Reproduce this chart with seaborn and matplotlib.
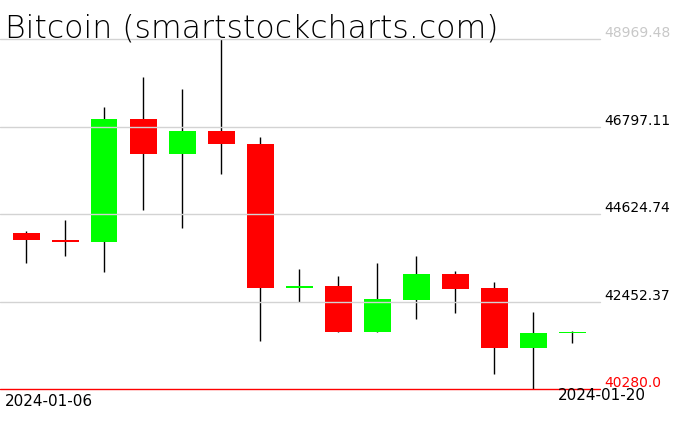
import matplotlib
matplotlib.use("Agg")
import matplotlib.pyplot as plt
import pandas as pd
import seaborn as sns

dates = pd.date_range("2024-01-06", "2024-01-20", freq="D")
opens = [44168, 43994, 43927, 46979, 46108, 46680, 46357, 42782, 42850, 41713, 42501, 43148, 42800, 41315, 41670]
highs = [44210, 44491, 47277, 48024, 47725, 48969.48, 46531, 43272, 43098, 43422, 43596, 43223, 42949, 42203, 41730]
lows = [43404, 43578, 43180, 44740, 44292, 45611, 41489, 42434, 41713, 41713, 42036, 42185, 40668, 40280.0, 41440]
closes = [43976, 43927, 46979, 46108, 46680, 46357, 42782, 42850, 41713, 42526, 43148, 42775, 41315, 41680, 41700]
tick_values = [48969.48, 46797.11, 44624.74, 42452.37, 40280.0]

df = pd.DataFrame({"date": dates, "open": opens, "high": highs, "low": lows, "close": closes})
df["i"] = range(len(df))
df["up"] = df["close"] >= df["open"]
df["bottom"] = df[["open", "close"]].min(axis=1)
df["height"] = (df["open"] - df["close"]).abs().clip(lower=25)

sns.set_style("white")
plt.rcParams["text.color"] = "black"
W, H = 676, 431
fig = plt.figure(figsize=(W / 100, H / 100), dpi=100)
y_top, y_bot = 40, 390.3
ax = fig.add_axes([0, (H - y_bot) / H, 600 / W, (y_bot - y_top) / H])
ymin, ymax = tick_values[-1], tick_values[0]
ax.set_ylim(ymin, ymax)
ax.set_xlim(-26 / 39, (600 - 26) / 39)

# wicks under the bodies
ax.vlines(df["i"], df["low"], df["high"], color="black", linewidth=1.0, zorder=1)
colors = df["up"].map({True: "#00ff00", False: "#ff0000"})
ax.bar(df["i"], df["height"], bottom=df["bottom"], width=27 / 39, color=colors, linewidth=0, zorder=2)

# grid lines drawn over the candles
for v in tick_values[:-1]:
    ax.axhline(v, color="#d3d3d3", linewidth=1.0, zorder=3, clip_on=False)
ax.axhline(tick_values[-1], color="#ff0000", linewidth=1.0, zorder=3, clip_on=False)

for s in ax.spines.values():
    s.set_visible(False)
ax.set_xticks([])
ax.set_yticks([])

for k, v in enumerate(tick_values):
    col = "#c8c8c8" if k == 0 else ("#ff0000" if k == len(tick_values) - 1 else "black")
    label = f"{v:.1f}" if k == len(tick_values) - 1 else f"{v:.2f}"
    ax.text(604 / 600, v, label, transform=ax.get_yaxis_transform(), ha="left", va="bottom",
            fontsize=10, color=col, clip_on=False)

fig.text(5 / W, (H - 406) / H, df["date"].iloc[0].strftime("%Y-%m-%d"), ha="left", va="baseline", fontsize=11)
fig.text(646 / W, (H - 400) / H, df["date"].iloc[-1].strftime("%Y-%m-%d"), ha="right", va="baseline", fontsize=11)

fig.text(5 / W, (H - 38) / H, "Bitcoin (smartstockcharts.com)", ha="left", va="baseline",
         fontsize=22.7, fontweight="ultralight")

fig.savefig("out.png", dpi=100)
